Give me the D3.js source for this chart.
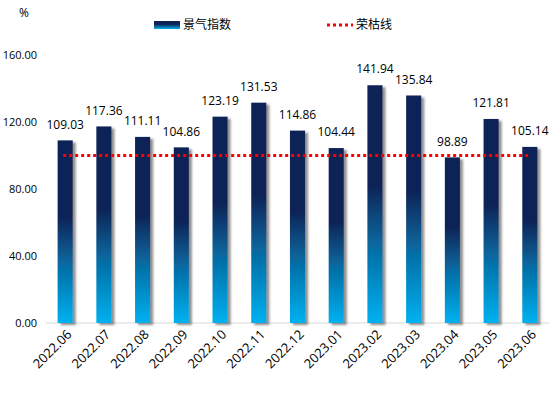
<!DOCTYPE html>
<html>
<head>
<meta charset="utf-8">
<script src="https://cdn.jsdelivr.net/npm/d3@7"></script>
<style>
  body { margin: 0; background: #fff; }
  text { font-family: "Open Sans", "Noto Sans CJK SC", sans-serif; fill: #000; }
</style>
</head>
<body>
<svg width="554" height="393"></svg>
<script>
// data
var months = ['2022.06', '2022.07', '2022.08', '2022.09', '2022.10', '2022.11', '2022.12',
  '2023.01', '2023.02', '2023.03', '2023.04', '2023.05', '2023.06'];
var index = [109.03, 117.36, 111.11, 104.86, 123.19, 131.53, 114.86,
  104.44, 141.94, 135.84, 98.89, 121.81, 105.14];
var line = 100;
var yTicks = [0, 40, 80, 120, 160];
var legendNames = ['景气指数', '荣枯线'];

var svg = d3.select('svg');
var defs = svg.append('defs');

var grad = defs.append('linearGradient')
  .attr('id', 'barGrad')
  .attr('x1', 0).attr('y1', 1).attr('x2', 0).attr('y2', 0);
grad.append('stop').attr('offset', '0%').attr('stop-color', '#00b1f0');
grad.append('stop').attr('offset', '30%').attr('stop-color', '#0670a8');
grad.append('stop').attr('offset', '58%').attr('stop-color', '#0e2356');
grad.append('stop').attr('offset', '100%').attr('stop-color', '#0e2356');

var lgGrad = defs.append('linearGradient')
  .attr('id', 'legGrad')
  .attr('x1', 0).attr('y1', 1).attr('x2', 0).attr('y2', 0);
lgGrad.append('stop').attr('offset', '0%').attr('stop-color', '#00b1f0');
lgGrad.append('stop').attr('offset', '60%').attr('stop-color', '#0e2356');

var shadow = defs.append('filter')
  .attr('id', 'shadow')
  .attr('x', '-20%').attr('y', '-5%').attr('width', '160%').attr('height', '115%');
shadow.append('feDropShadow')
  .attr('dx', 3).attr('dy', 2)
  .attr('stdDeviation', 1.3)
  .attr('flood-color', '#555')
  .attr('flood-opacity', 0.65);

var x = d3.scaleBand()
  .domain(months)
  .range([46, 549])
  .paddingInner(0.61)
  .paddingOuter(0.3);

var y = d3.scaleLinear()
  .domain([0, 160])
  .range([323, 55]);

// y axis labels
var yAxis = svg.append('g')
  .attr('transform', 'translate(37,0)')
  .call(d3.axisLeft(y).tickValues(yTicks).tickSize(0).tickPadding(0)
    .tickFormat(function(d) { return d3.format('.2f')(d); }));
yAxis.select('.domain').remove();
yAxis.selectAll('text')
  .style('font-size', '11px')
  .attr('dy', '0.35em');

// baseline
svg.append('line')
  .attr('x1', 46).attr('x2', 549)
  .attr('y1', y(0)).attr('y2', y(0))
  .attr('stroke', '#e6e6e6')
  .attr('stroke-width', 1.5);

// bars
svg.append('g')
  .selectAll('rect')
  .data(index)
  .enter()
  .append('rect')
  .attr('x', function(d, i) { return x(months[i]); })
  .attr('y', function(d) { return y(d); })
  .attr('width', x.bandwidth())
  .attr('height', function(d) { return y(0) - y(d); })
  .attr('fill', 'url(#barGrad)')
  .attr('filter', 'url(#shadow)');

// value labels
svg.append('g')
  .selectAll('text')
  .data(index)
  .enter()
  .append('text')
  .attr('x', function(d, i) { return x(months[i]) + x.bandwidth() / 2; })
  .attr('y', function(d) { return y(d) - 16; })
  .attr('dy', '0.35em')
  .attr('text-anchor', 'middle')
  .style('font-size', '12px')
  .text(function(d) { return d3.format('.2f')(d); });

// boom-bust line
svg.append('line')
  .attr('x1', x(months[0]) + x.bandwidth() / 2 - 2)
  .attr('x2', x(months[months.length - 1]) + x.bandwidth() / 2)
  .attr('y1', y(line)).attr('y2', y(line))
  .attr('stroke', '#ff0000')
  .attr('stroke-width', 3)
  .attr('stroke-dasharray', '3,3');

// x labels
svg.append('g')
  .selectAll('text')
  .data(months)
  .enter()
  .append('text')
  .attr('transform', function(d) {
    return 'translate(' + (x(d) + x.bandwidth() / 2 + 4) + ',332) rotate(-45)';
  })
  .attr('text-anchor', 'end')
  .attr('dy', '0.35em')
  .style('font-size', '13px')
  .text(function(d) { return d; });

// unit
svg.append('text')
  .attr('x', 19).attr('y', 13)
  .attr('dy', '0.35em')
  .style('font-size', '12px')
  .text('%');

// legend
svg.append('rect')
  .attr('x', 154).attr('y', 21)
  .attr('width', 26).attr('height', 8)
  .attr('fill', 'url(#legGrad)');
svg.append('text')
  .attr('x', 183).attr('y', 25)
  .attr('dy', '0.35em')
  .style('font-size', '12px')
  .text(legendNames[0]);

svg.append('line')
  .attr('x1', 327).attr('x2', 353)
  .attr('y1', 25).attr('y2', 25)
  .attr('stroke', '#ff0000')
  .attr('stroke-width', 3)
  .attr('stroke-dasharray', '3,3');
svg.append('text')
  .attr('x', 356).attr('y', 25)
  .attr('dy', '0.35em')
  .style('font-size', '12px')
  .text(legendNames[1]);
</script>
</body>
</html>
